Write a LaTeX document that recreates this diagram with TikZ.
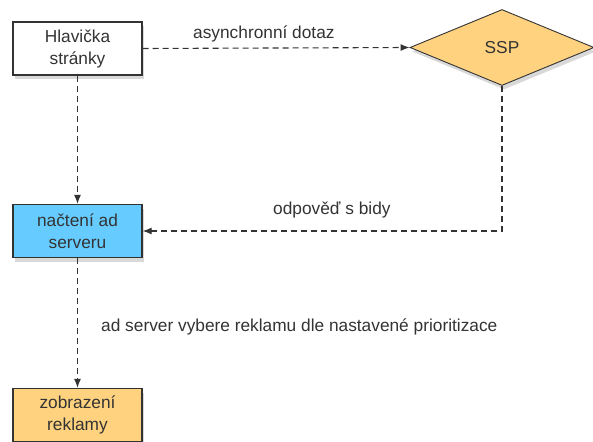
\documentclass[tikz,border=0pt]{standalone}
\usepackage{fontspec}
\setmainfont{Liberation Sans}
\usetikzlibrary{shapes.geometric,shadows,arrows.meta}
\definecolor{boxblue}{HTML}{66CCFF}
\definecolor{boxorange}{HTML}{FFD27F}
\tikzset{
  every node/.style={font=\fontsize{17.3}{22}\selectfont, text=black!80},
  stepbox/.style={draw=black!80, line width=1.3pt, minimum width=129pt, minimum height=53pt,
     align=center, inner sep=2pt, drop shadow={shadow xshift=2pt, shadow yshift=-4pt, opacity=0.3}},
  decbox/.style={diamond, draw=black!80, line width=0.9pt, aspect=2.4, minimum width=184pt, minimum height=76pt,
     inner sep=0pt, drop shadow={shadow xshift=2pt, shadow yshift=-4pt, opacity=0.3}},
  conn/.style={dash pattern=on 6pt off 4pt, line width=1.1pt, draw=black!80,
     -{Latex[length=9pt,width=7pt]}},
  lbl/.style={inner sep=0pt}
}
\begin{document}
\begin{tikzpicture}[x=1pt,y=1pt]
\useasboundingbox (0,0) rectangle (593,-441);
\node[stepbox, fill=white] (hl) at (77.5,-48.5) {Hlavička\\stránky};
\node[decbox, fill=boxorange] (ssp) at (502,-47.5) {SSP};
\node[stepbox, fill=boxblue] (nac) at (77.5,-231) {načtení ad\\serveru};
\node[stepbox, fill=boxorange] (zob) at (77.5,-415) {zobrazení\\reklamy};
\coordinate (corner) at (ssp.south |- nac.east);
\draw[conn] (hl.east) -- (ssp.west);
\draw[conn] (hl.south) -- (nac.north);
\draw[conn] (ssp.south) -- (corner) -- (nac.east);
\draw[conn] (nac.south) -- (zob.north);
\node[lbl, anchor=base west] (t1) at (193,-39) {asynchronní dotaz};
\node[lbl, anchor=base west] (t2) at (273,-214) {odpověď s bidy};
\node[lbl, anchor=base west] (t3) at (101,-331) {ad server vybere reklamu dle nastavené prioritizace};
\end{tikzpicture}
\end{document}
